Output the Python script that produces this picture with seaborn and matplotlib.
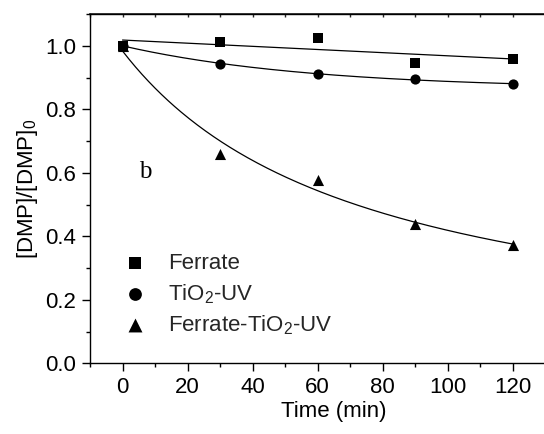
import numpy as np
import pandas as pd
import matplotlib
matplotlib.use("Agg")
import matplotlib.pyplot as plt
from matplotlib.ticker import MultipleLocator, FixedLocator
import seaborn as sns

# Measured relative concentrations of DMP
time_min = [0, 30, 60, 90, 120]
ferrate = [1.000, 1.012, 1.024, 0.947, 0.958]
tio2_uv = [1.000, 0.944, 0.911, 0.895, 0.879]
ferrate_tio2_uv = [1.000, 0.659, 0.578, 0.440, 0.373]

series_names = ["Ferrate", "TiO$_2$-UV", "Ferrate-TiO$_2$-UV"]
series_values = [ferrate, tio2_uv, ferrate_tio2_uv]
series_markers = ["s", "o", "^"]
series_sizes = [44, 54, 64]

x_ticks = [0, 20, 40, 60, 80, 100, 120]
y_ticks = [0.0, 0.2, 0.4, 0.6, 0.8, 1.0]

sns.set_theme(style="ticks")
plt.rcParams["font.family"] = ["Liberation Sans", "DejaVu Sans"]
plt.rcParams["mathtext.fontset"] = "custom"
plt.rcParams["mathtext.rm"] = "Liberation Sans"
plt.rcParams["mathtext.it"] = "Liberation Sans:italic"
plt.rcParams["mathtext.bf"] = "Liberation Sans:bold"

t = np.asarray(time_min, dtype=float)
t_fine = np.linspace(0, 120, 241)


def fit_linear(y):
    c = np.polyfit(t, y, 1)
    return np.polyval(c, t_fine)


def fit_plateau_exp(y):
    # y = a + b * exp(-k t), grid search on k, least squares on a, b
    y = np.asarray(y)
    best = None
    for k in np.linspace(0.001, 0.2, 2000):
        A = np.column_stack([np.ones_like(t), np.exp(-k * t)])
        coef, *_ = np.linalg.lstsq(A, y, rcond=None)
        err = np.sum((A @ coef - y) ** 2)
        if best is None or err < best[0]:
            best = (err, k, coef)
    _, k, (a, b) = best
    return a + b * np.exp(-k * t_fine)


def fit_second_order(y):
    c = np.polyfit(t, 1.0 / np.asarray(y), 1)
    return 1.0 / np.polyval(c, t_fine)


fits = [fit_linear(ferrate), fit_plateau_exp(tio2_uv), fit_second_order(ferrate_tio2_uv)]

W, H = 544, 434
fig = plt.figure(figsize=(W / 100, H / 100), dpi=100)
ax = fig.add_axes([90 / W, 1 - 363.3 / H, 488 / W, 349.3 / H])

for name, vals, m, s, f in zip(series_names, series_values, series_markers, series_sizes, fits):
    sns.lineplot(x=t_fine, y=f, color="black", linewidth=0.9, ax=ax, legend=False)
    sns.scatterplot(x=time_min, y=vals, marker=m, s=s, color="black",
                    linewidth=0, ax=ax, label=name, zorder=3)

ax.set_xlim(-10, 140)
ax.set_ylim(0, 1.1)

ax.xaxis.set_major_locator(FixedLocator(x_ticks))
ax.xaxis.set_minor_locator(MultipleLocator(10))
ax.yaxis.set_major_locator(FixedLocator(y_ticks))
ax.yaxis.set_minor_locator(MultipleLocator(0.1))
ax.set_yticklabels([f"{v:.1f}" for v in y_ticks])

for sp in ax.spines.values():
    sp.set_linewidth(1.0)
    sp.set_color("black")

ax.tick_params(axis="both", which="major", direction="out", length=6, width=1.0,
               labelsize=16, colors="black", pad=4)
ax.tick_params(axis="both", which="minor", direction="out", length=3, width=1.0, colors="black")
ax.tick_params(axis="x", which="both", top=False, labeltop=False)

# inward ticks along the top edge every 10 min
ax_top = ax.secondary_xaxis("top")
ax_top.xaxis.set_major_locator(MultipleLocator(10))
ax_top.tick_params(direction="in", length=2, width=1.0, labeltop=False)

ax.set_xlabel("Time (min)", fontsize=16, labelpad=2, color="black")
ax.set_ylabel("[DMP]/[DMP]$_0$", fontsize=16, labelpad=4, color="black")

ax.text(5.0, 0.585, "b", fontsize=18, family="Liberation Serif",
        ha="left", va="baseline", color="black")

handles, labels = ax.get_legend_handles_labels()
ax.legend(handles, labels, loc="center left", bbox_to_anchor=(0.0697, 0.1955),
          frameon=False, fontsize=16, handlelength=1.0, handletextpad=1.0,
          borderpad=0, borderaxespad=0, labelspacing=0.35, markerscale=1.25)

fig.savefig("out.png", dpi=100)
